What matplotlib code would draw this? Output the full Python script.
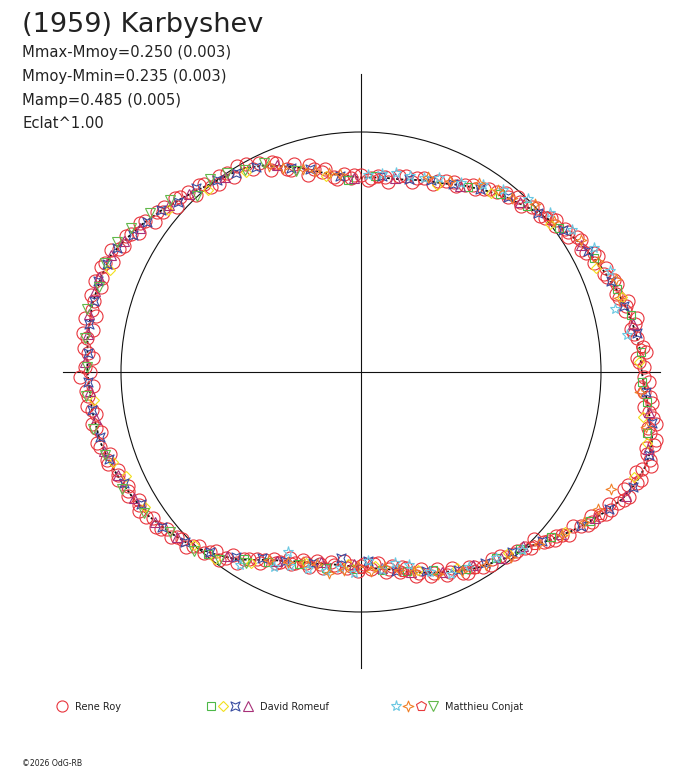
import numpy as np
import matplotlib
matplotlib.use("Agg")
import matplotlib.pyplot as plt
from matplotlib.path import Path
from matplotlib.patches import Circle

plt.rcParams['font.family'] = ['DejaVu Sans']

TITLE = "(1959) Karbyshev"
INFO_LINES = ["Mmax-Mmoy=0.250 (0.003)", "Mmoy-Mmin=0.235 (0.003)",
              "Mamp=0.485 (0.005)", "Eclat^1.00"]
COPYRIGHT = "\u00a92026 OdG-RB"

# fitted curve: phase angle (deg) and radius (reference circle = 1)
CURVE_PHASE = [0, 5, 9, 13, 18, 24, 28, 32, 38, 44, 50, 55, 61, 67, 72, 78, 84, 90,
               95, 100, 104, 107, 111, 115, 120, 124, 128, 132, 136, 141, 146, 150,
               155, 160, 166, 173, 180, 188, 195, 200, 204, 209, 214, 220, 226, 231,
               236, 240, 244, 248, 252, 257, 262, 266, 270, 274, 278, 282, 286, 290,
               294, 298, 301, 307, 314, 318, 323, 327, 330, 334, 338, 342, 345, 347,
               350, 353, 356, 360]
CURVE_R = [1.17, 1.165, 1.153, 1.14, 1.118, 1.09, 1.07, 1.05, 1.015, 0.98, 0.948, 0.92,
           0.888, 0.855, 0.84, 0.82, 0.815, 0.81, 0.822, 0.84, 0.868, 0.89, 0.918, 0.95,
           0.98, 0.99, 1.00, 1.02, 1.04, 1.07, 1.10, 1.122, 1.15, 1.153, 1.155, 1.148,
           1.14, 1.132, 1.125, 1.112, 1.10, 1.085, 1.07, 1.04, 1.01, 0.975, 0.94, 0.905,
           0.87, 0.85, 0.83, 0.82, 0.81, 0.81, 0.81, 0.82, 0.83, 0.85, 0.87, 0.89, 0.91,
           0.935, 0.95, 0.978, 1.01, 1.05, 1.10, 1.14, 1.17, 1.21, 1.235, 1.25, 1.249,
           1.245, 1.225, 1.205, 1.188, 1.17]

# Rene Roy (two sessions, same symbol)
RR_PHASE = [1, 3, 4, 7, 9, 11, 13, 15, 17, 19, 21, 23, 25, 27, 29, 31, 33, 35, 37, 39,
            41, 43, 46, 48, 50, 53, 56, 58, 61, 63, 66, 69, 72, 75, 79, 82, 85, 88, 90,
            93, 95, 98, 101, 103, 105, 108, 110, 112, 114, 116, 118, 121, 123, 126, 129,
            131, 133, 136, 138, 140, 142, 144, 146, 148, 150, 152, 154, 156, 158, 160,
            162, 164, 167, 169, 171, 173, 175, 177, 179, 181, 183, 185, 187, 189, 191,
            193, 196, 198, 200, 202, 204, 206, 208, 210, 212, 215, 217, 219, 221, 223,
            225, 227, 229, 231, 233, 235, 237, 239, 241, 243, 245, 247, 249, 251, 253,
            255, 257, 259, 261, 263, 265, 267, 269, 271, 273, 275, 277, 279, 281, 283,
            285, 287, 289, 291, 293, 295, 297, 299, 302, 305, 308, 311, 314, 316, 318,
            320, 322, 324, 326, 328, 330, 332, 334, 336, 338, 340, 342, 344, 346, 348,
            350, 352, 354, 356, 358]
RR_R = [1.18, 1.15, 1.19, 1.16, 1.14, 1.17, 1.13, 1.15, 1.11, 1.13, 1.10, 1.11, 1.07,
        1.09, 1.05, 1.07, 1.03, 1.04, 1.01, 1.02, 0.99, 1.00, 0.96, 0.98, 0.95, 0.94,
        0.92, 0.90, 0.89, 0.87, 0.87, 0.84, 0.85, 0.82, 0.83, 0.80, 0.82, 0.80, 0.82,
        0.81, 0.83, 0.82, 0.85, 0.87, 0.85, 0.91, 0.90, 0.94, 0.92, 0.97, 0.96, 1.00,
        0.97, 1.01, 0.99, 1.03, 1.01, 1.05, 1.03, 1.07, 1.08, 1.06, 1.11, 1.09, 1.13,
        1.12, 1.16, 1.13, 1.17, 1.15, 1.14, 1.17, 1.15, 1.17, 1.13, 1.15, 1.16, 1.12,
        1.15, 1.17, 1.12, 1.14, 1.15, 1.12, 1.14, 1.11, 1.13, 1.10, 1.12, 1.09, 1.11,
        1.08, 1.10, 1.07, 1.09, 1.06, 1.07, 1.04, 1.05, 1.02, 1.03, 0.99, 1.00, 0.96,
        0.98, 0.93, 0.95, 0.91, 0.89, 0.88, 0.86, 0.86, 0.83, 0.84, 0.82, 0.84, 0.81,
        0.83, 0.80, 0.82, 0.79, 0.81, 0.83, 0.80, 0.82, 0.80, 0.84, 0.82, 0.85, 0.84,
        0.88, 0.86, 0.90, 0.88, 0.92, 0.90, 0.94, 0.93, 0.96, 0.95, 0.98, 0.99, 1.02,
        1.00, 1.05, 1.06, 1.10, 1.09, 1.14, 1.13, 1.18, 1.17, 1.22, 1.20, 1.24, 1.22,
        1.27, 1.24, 1.26, 1.23, 1.25, 1.21, 1.22, 1.18, 1.20]
RR2_PHASE = [2, 5, 8, 10, 14, 16, 20, 22, 26, 28, 32, 34, 38, 40, 44, 47, 51, 55, 59,
             64, 68, 74, 77, 83, 87, 92, 97, 100, 104, 109, 113, 119, 124, 127, 130,
             134, 137, 141, 145, 149, 153, 157, 161, 165, 168, 172, 176, 180, 184, 188,
             192, 195, 199, 203, 207, 211, 214, 218, 222, 226, 230, 234, 238, 242, 246,
             250, 254, 258, 262, 266, 270, 274, 278, 282, 286, 290, 294, 298, 300, 304,
             307, 310, 313, 317, 319, 321, 325, 327, 329, 331, 333, 335, 337, 339, 341,
             343, 345, 347, 349, 351, 353, 355, 357, 359]
RR2_R = [1.16, 1.18, 1.15, 1.16, 1.14, 1.12, 1.12, 1.09, 1.10, 1.06, 1.06, 1.04, 1.03,
         1.00, 0.99, 0.97, 0.96, 0.93, 0.91, 0.88, 0.86, 0.84, 0.84, 0.82, 0.81, 0.82,
         0.81, 0.86, 0.89, 0.89, 0.95, 0.99, 1.00, 0.98, 1.02, 1.04, 1.06, 1.06, 1.10,
         1.12, 1.13, 1.16, 1.17, 1.15, 1.13, 1.17, 1.14, 1.13, 1.15, 1.13, 1.13, 1.14,
         1.12, 1.10, 1.09, 1.08, 1.08, 1.06, 1.03, 1.01, 0.98, 0.96, 0.92, 0.90, 0.87,
         0.85, 0.83, 0.82, 0.81, 0.82, 0.81, 0.80, 0.83, 0.83, 0.87, 0.89, 0.91, 0.95,
         0.94, 0.97, 0.96, 0.99, 1.00, 1.04, 1.07, 1.08, 1.12, 1.15, 1.16, 1.19, 1.20,
         1.23, 1.21, 1.25, 1.24, 1.26, 1.23, 1.26, 1.22, 1.23, 1.19, 1.21, 1.17, 1.18]

# David Romeuf (4 sessions)
DR1_PHASE = [4, 12, 18, 26, 36, 45, 52, 60, 86, 94, 230, 238, 244, 252, 260, 268, 276,
             283, 290, 298, 306, 312, 319, 327, 348, 354, 358]
DR1_R = [1.17, 1.15, 1.12, 1.08, 1.02, 0.98, 0.94, 0.89, 0.82, 0.80, 0.99, 0.92, 0.88,
         0.84, 0.83, 0.82, 0.83, 0.85, 0.88, 0.93, 0.96, 0.99, 1.05, 1.14, 1.22, 1.20,
         1.17]
DR2_PHASE = [2, 16, 24, 38, 54, 68, 100, 120, 130, 140, 158, 186, 200, 204, 212, 226,
             232, 240, 254, 266, 274, 286, 296, 309, 322, 339, 346, 351]
DR2_R = [1.16, 1.13, 1.07, 1.00, 0.92, 0.84, 0.83, 0.96, 0.99, 1.05, 1.13, 1.12, 1.10,
         1.07, 1.06, 1.00, 0.99, 0.92, 0.83, 0.80, 0.81, 0.86, 0.91, 0.97, 1.08, 1.22,
         1.23, 1.19]
DR3_PHASE = [8, 14, 20, 28, 35, 42, 50, 57, 64, 70, 76, 84, 96, 104, 109, 117, 122, 127,
             132, 137, 141, 145, 149, 153, 157, 161, 165, 170, 176, 182, 188, 194, 199,
             205, 211, 218, 224, 230, 236, 242, 248, 256, 264, 272, 280, 288, 296, 303,
             310, 317, 325, 331, 337, 344, 350, 356]
DR3_R = [1.16, 1.13, 1.11, 1.07, 1.03, 0.99, 0.95, 0.91, 0.87, 0.85, 0.83, 0.82, 0.82,
         0.87, 0.90, 0.96, 0.98, 1.00, 1.03, 1.04, 1.07, 1.09, 1.11, 1.14, 1.15, 1.16,
         1.15, 1.15, 1.14, 1.14, 1.13, 1.12, 1.11, 1.09, 1.07, 1.05, 1.02, 0.98, 0.93,
         0.88, 0.85, 0.82, 0.78, 0.79, 0.84, 0.87, 0.92, 0.95, 0.98, 1.03, 1.12, 1.18,
         1.23, 1.25, 1.23, 1.19]
DR4_PHASE = [10, 30, 47, 62, 80, 92, 112, 125, 134, 139, 147, 151, 155, 160, 163, 168,
             172, 178, 184, 190, 197, 203, 209, 216, 222, 234, 246, 258, 268, 276, 284,
             292, 300, 307, 313, 321, 328, 335, 345, 352]
DR4_R = [1.15, 1.06, 0.97, 0.88, 0.82, 0.81, 0.93, 0.99, 1.03, 1.06, 1.10, 1.13, 1.15,
         1.16, 1.16, 1.16, 1.15, 1.15, 1.13, 1.12, 1.12, 1.10, 1.08, 1.06, 1.03, 0.95,
         0.86, 0.81, 0.80, 0.82, 0.86, 0.90, 0.93, 0.97, 0.99, 1.07, 1.15, 1.22, 1.24,
         1.21]

# Matthieu Conjat (4 sessions)
MC1_PHASE = [8, 14, 22, 28, 34, 40, 46, 52, 57, 62, 68, 72, 76, 80, 84, 88, 238, 246,
             248, 250, 255, 260, 264, 268, 272, 276, 280, 284, 289, 294, 299, 306, 312]
MC1_R = [1.12, 1.09, 1.12, 1.10, 1.06, 1.03, 1.00, 0.96, 0.93, 0.89, 0.87, 0.85, 0.84,
         0.84, 0.83, 0.82, 0.95, 0.89, 0.81, 0.86, 0.85, 0.84, 0.82, 0.84, 0.79, 0.83,
         0.81, 0.83, 0.88, 0.92, 0.93, 0.96, 1.00]
MC2_PHASE = [16, 20, 25, 31, 38, 44, 49, 53, 58, 65, 71, 96, 99, 103, 106, 111, 114,
             244, 249, 253, 257, 261, 265, 269, 273, 277, 281, 285, 291, 297, 303, 309,
             316, 321, 326, 330, 335, 349, 356]
MC2_R = [1.12, 1.13, 1.09, 1.07, 1.02, 1.01, 0.96, 0.95, 0.93, 0.88, 0.86, 0.83, 0.84,
         0.86, 0.88, 0.91, 0.94, 0.87, 0.85, 0.83, 0.82, 0.85, 0.83, 0.81, 0.83, 0.82,
         0.84, 0.86, 0.90, 0.93, 0.96, 0.99, 1.03, 1.08, 1.12, 1.14, 1.15, 1.21, 1.165]
MC3_PHASE = [5, 40, 85, 270, 282, 300, 315, 329]
MC3_R = [1.17, 1.01, 0.81, 0.82, 0.85, 0.95, 1.02, 1.16]
MC4_PHASE = [108, 115, 120, 124, 128, 133, 138, 143, 148, 152, 157, 162, 167, 173, 179,
             185, 192, 198, 206, 213, 220, 227, 233, 239]
MC4_R = [0.88, 0.96, 0.97, 1.00, 1.02, 1.00, 1.07, 1.10, 1.13, 1.15, 1.16, 1.15, 1.17,
         1.16, 1.14, 1.15, 1.14, 1.12, 1.11, 1.08, 1.04, 1.02, 0.98, 0.93]

# custom markers
xsq = Path([(-1, -1), (0, -0.55), (1, -1), (0.55, 0), (1, 1), (0, 0.55), (-1, 1),
            (-0.55, 0), (-1, -1)], closed=True)
star4 = Path([(0, 1), (0.28, 0.28), (1, 0), (0.28, -0.28), (0, -1), (-0.28, -0.28),
              (-1, 0), (-0.28, 0.28), (0, 1)], closed=True)

RED = '#e8343c'
SERIES = [
    (RR_PHASE, RR_R, 'o', RED, 9.4),
    (DR1_PHASE, DR1_R, 's', '#4cb848', 5.8),
    (DR2_PHASE, DR2_R, 'D', '#f2e01c', 4.6),
    (DR3_PHASE, DR3_R, xsq, '#3a4ea2', 6.6),
    (DR4_PHASE, DR4_R, '^', '#a83078', 7.0),
    (MC1_PHASE, MC1_R, '*', '#6ac8e2', 8.0),
    (MC2_PHASE, MC2_R, star4, '#f08028', 7.8),
    (MC3_PHASE, MC3_R, 'p', '#e83a3c', 7.6),
    (MC4_PHASE, MC4_R, 'v', '#62b84a', 7.0),
]
EXTRA = [(RR2_PHASE, RR2_R, 'o', RED, 9.4)]

W, H, DPI = 688, 768, 100
CX, CY, RPX = 361, 372, 240

fig = plt.figure(figsize=(W / DPI, H / DPI), dpi=DPI)
ax = fig.add_axes([0, 0, 1, 1])
ax.set_xlim(-CX / RPX, (W - CX) / RPX)
ax.set_ylim((CY - H) / RPX, CY / RPX)
ax.axis('off')

TXT = '#222222'
# axes cross and reference circle
ax.plot([-1.24, 1.245], [0, 0], color='#111111', lw=0.8, zorder=1)
ax.plot([0, 0], [-1.235, 1.24], color='#111111', lw=0.8, zorder=1)
ax.add_patch(Circle((0, 0), 1.0, fill=False, ec='#111111', lw=0.8, zorder=1))

ct = np.deg2rad(np.array(CURVE_PHASE, dtype=float))
cr = np.array(CURVE_R, dtype=float)
ax.plot(cr * np.cos(ct), cr * np.sin(ct), color='#111111', lw=1.3,
        linestyle=(0, (1.5, 1.0)), zorder=2)

for ph, r, mk, col, ms in [SERIES[0]] + EXTRA + SERIES[1:]:
    t = np.deg2rad(np.array(ph, dtype=float))
    rr = np.array(r, dtype=float)
    ax.plot(rr * np.cos(t), rr * np.sin(t), linestyle='none', marker=mk, ms=ms,
            mfc='none', mec=col, mew=0.8, zorder=3)

# texts
def fy(py):
    return 1 - py / H

fig.text(22 / W, fy(32), TITLE, fontsize=19.5, color=TXT, va='baseline', ha='left')
for i, line in enumerate(INFO_LINES):
    fig.text(22 / W, fy(56.5 + 24 * i), line, fontsize=10.6, color=TXT,
             va='baseline', ha='left')
fig.text(22 / W, fy(766), COPYRIGHT, fontsize=5.6, color=TXT, va='baseline', ha='left')

# legend
LEG_Y = 705.5
legend_groups = [
    ([(62, 0)], "Rene Roy", 75),
    ([(210.5, 1), (222.5, 2), (235, 3), (247.5, 4)], "David Romeuf", 259.5),
    ([(395.5, 5), (407.5, 6), (421, 7), (433, 8)], "Matthieu Conjat", 445),
]
for marks, label, tx in legend_groups:
    for px, si in marks:
        _, _, mk, col, ms = SERIES[si]
        if si == 0:
            ms = 8.0
        ax.plot([(px - CX) / RPX], [(CY - LEG_Y) / RPX], linestyle='none', marker=mk,
                ms=ms, mfc='none', mec=col, mew=0.8)
    fig.text(tx / W, fy(709.5), label, fontsize=7, color=TXT, va='baseline', ha='left')

fig.savefig('out.png', dpi=DPI)
